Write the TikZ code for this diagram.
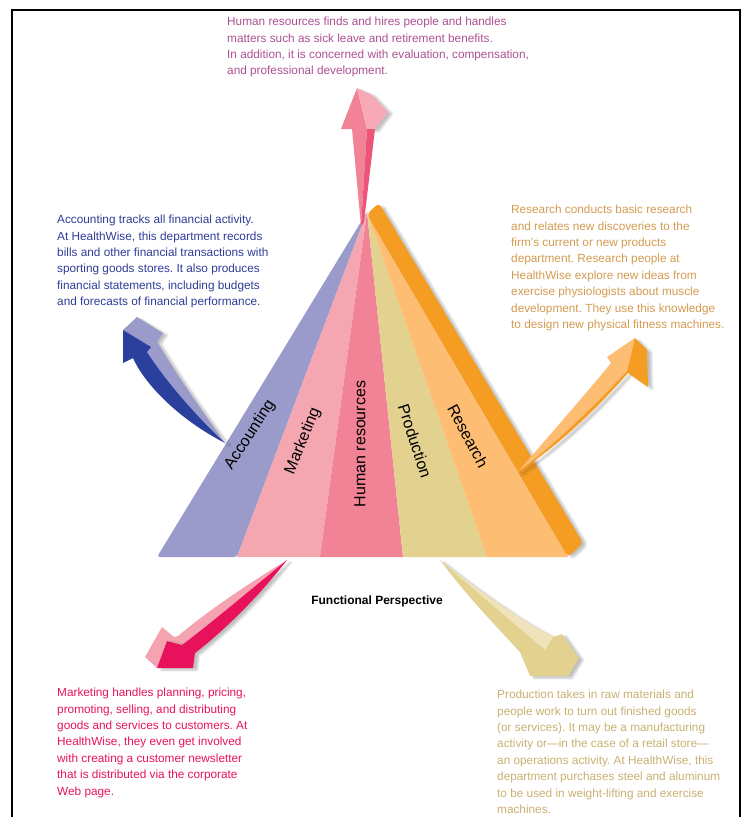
\documentclass[tikz,border=0pt]{standalone}
\usepackage{fontspec}
\setmainfont{Liberation Sans}
\usetikzlibrary{shadows.blur}
\frenchspacing

\definecolor{accfill}{RGB}{155,155,203}
\definecolor{mktfill}{RGB}{244,167,177}
\definecolor{hrfill}{RGB}{242,131,151}
\definecolor{prodfill}{RGB}{227,209,144}
\definecolor{resfill}{RGB}{253,190,115}
\definecolor{resband}{RGB}{245,156,35}
\definecolor{accdark}{RGB}{43,63,156}
\definecolor{mktdark}{RGB}{232,18,92}
\definecolor{mktlight}{RGB}{245,163,177}
\definecolor{hrdark}{RGB}{236,85,120}
\definecolor{hrlight}{RGB}{247,170,181}
\definecolor{prodlight}{RGB}{240,227,188}
\definecolor{hrtext}{RGB}{172,80,145}
\definecolor{acctext}{RGB}{46,60,150}
\definecolor{restext}{RGB}{212,154,80}
\definecolor{mkttext}{RGB}{232,18,92}
\definecolor{prodtext}{RGB}{200,176,112}

\begin{document}
\begin{tikzpicture}[x=1pt, y=-1pt,
    note/.style={anchor=north west, inner sep=0pt, align=left, text=#1, font=\fontsize{11.8}{16.4}\selectfont},
    dept/.style={inner sep=0pt, font=\fontsize{16}{16}\selectfont},
    shade/.style={blur shadow={shadow xshift=4pt, shadow yshift=-2pt, shadow opacity=25, shadow blur steps=6}}
]
    \useasboundingbox (0,0) rectangle (750,817);

    % frame
    \draw[line width=2pt] (12,817) -- (12,10) -- (740,10) -- (740,817);

    % pyramid of departments
    \coordinate (top) at (367,212);
    \fill[accfill, rounded corners=3pt] (top) -- (157,557) -- (237,557) -- cycle;
    \fill[mktfill] (top) -- (237,557) -- (320,557) -- cycle;
    \fill[hrfill] (top) -- (320,557) -- (403,557) -- cycle;
    \fill[prodfill] (top) -- (403,557) -- (487,557) -- cycle;
    \fill[resfill] (top) -- (487,557) -- (568,557) -- cycle;

    % human resources arrow
    \fill[hrfill] (357,88) -- (341,129) -- (352,129) -- (361,226) -- (367,129) -- cycle;
    \fill[hrlight, shade] (357,88) -- (372,95) -- (388,112) -- (375,129) -- (367,129) -- cycle;
    \fill[hrdark] (367,129) -- (375,129) -- (364,222) -- (361,226) -- cycle;

    % side of the pyramid
    \fill[resband, rounded corners=4pt, shade] (367,214) -- (379,203) -- (583,543) -- (568,557) -- cycle;

    % accounting arrow
    \fill[accfill, shade] (123,330) -- (137,317) -- (163,333) -- (157,342) -- (162,350)
        .. controls (180,380) and (205,415) .. (225,443)
        .. controls (195,415) and (165,380) .. (147,352) -- (151,347) -- cycle;
    \fill[accdark] (123,330) -- (123,363) -- (133,358)
        .. controls (145,385) and (180,420) .. (225,443)
        .. controls (195,415) and (165,380) .. (147,352) -- (151,347) -- cycle;

    % marketing arrow
    \fill[mktlight] (145,657) -- (162,627) -- (174,637) -- (178,636)
        .. controls (215,605) and (255,580) .. (287,560)
        .. controls (250,590) and (215,620) .. (182,645) -- (167,641) -- (157,668) -- cycle;
    \fill[mktdark, shade] (157,668) -- (167,641) -- (182,645)
        .. controls (215,620) and (250,590) .. (287,560)
        .. controls (260,595) and (225,630) .. (195,653) -- (193,668) -- cycle;

    % production arrow
    \fill[prodfill, shade] (440,560) .. controls (470,600) and (500,630) .. (520,652)
        -- (530,676) -- (568,676) -- (579,658) -- (562,634) -- (553,637)
        .. controls (520,620) and (480,592) .. (440,560);
    \fill[prodlight] (440,560) .. controls (480,592) and (520,620) .. (553,637)
        -- (545,650) .. controls (510,620) and (475,590) .. (440,560);

    % research arrow
    \fill[resfill] (635,338) -- (607,357) -- (611,363)
        .. controls (585,395) and (545,440) .. (518,472)
        .. controls (560,440) and (600,400) .. (627,371) -- cycle;
    \fill[resband, shade] (635,338) -- (647,350) -- (648,387) -- (628,373)
        .. controls (600,405) and (560,445) .. (518,472)
        .. controls (560,440) and (600,400) .. (627,371) -- cycle;

    % department names
    \node[dept, rotate=57] (acc) at (250,435) {Accounting};
    \node[dept, rotate=68] (mkt) at (303,441) {Marketing};
    \node[dept, rotate=90] (hr) at (360,444) {Human resources};
    \node[dept, rotate=-72] (prod) at (415,441) {Production};
    \node[dept, rotate=-62] (res) at (468,436) {Research};

    \node[font=\fontsize{12}{12}\selectfont\bfseries] (title) at (377,601) {Functional Perspective};

    % descriptions
    \node[note=hrtext] (hrinfo) at (227,17) {Human resources finds and hires people and handles\\
        matters such as sick leave and retirement benefits.\\
        In addition, it is concerned with evaluation, compensation,\\
        and professional development.};
    \node[note=acctext] (accinfo) at (57,215) {Accounting tracks all financial activity.\\
        At HealthWise, this department records\\
        bills and other financial transactions with\\
        sporting goods stores. It also produces\\
        financial statements, including budgets\\
        and forecasts of financial performance.};
    \node[note=restext] (resinfo) at (511,205) {Research conducts basic research\\
        and relates new discoveries to the\\
        firm’s current or new products\\
        department. Research people at\\
        HealthWise explore new ideas from\\
        exercise physiologists about muscle\\
        development. They use this knowledge\\
        to design new physical fitness machines.};
    \node[note=mkttext] (mktinfo) at (57,688) {Marketing handles planning, pricing,\\
        promoting, selling, and distributing\\
        goods and services to customers. At\\
        HealthWise, they even get involved\\
        with creating a customer newsletter\\
        that is distributed via the corporate\\
        Web page.};
    \node[note=prodtext] (prodinfo) at (497,690) {Production takes in raw materials and\\
        people work to turn out finished goods\\
        (or services). It may be a manufacturing\\
        activity or---in the case of a retail store---\\
        an operations activity. At HealthWise, this\\
        department purchases steel and aluminum\\
        to be used in weight-lifting and exercise\\
        machines.};
\end{tikzpicture}
\end{document}
